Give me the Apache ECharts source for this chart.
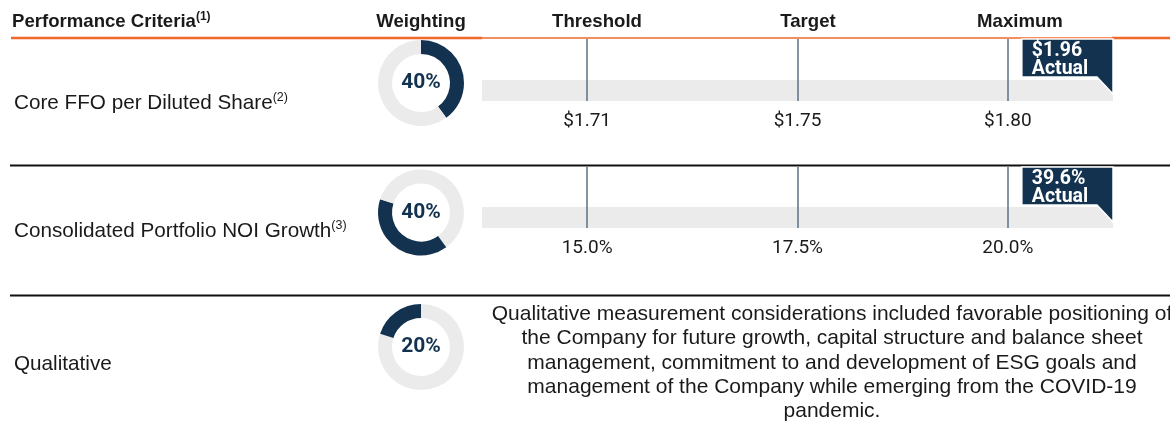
<!DOCTYPE html>
<html>
<head>
<meta charset="utf-8">
<script src="https://cdn.jsdelivr.net/npm/echarts@6/dist/echarts.min.js"></script>
<style>
  html, body { margin: 0; padding: 0; background: #ffffff; }
  #chart { width: 1170px; height: 428px; }
</style>
</head>
<body>
<div id="chart"></div>
<script>
// ---- data ----
const columnHeaders = ['Performance Criteria', 'Weighting', 'Threshold', 'Target', 'Maximum'];
const headerNote = '(1)';
const criteria = ['Core FFO per Diluted Share', 'Consolidated Portfolio NOI Growth', 'Qualitative'];
const criteriaNotes = ['(2)', '(3)', ''];
const weights = [40, 40, 20];
const ffoGoals = [1.71, 1.75, 1.80];
const ffoActual = 1.96;
const noiGoals = [15.0, 17.5, 20.0];
const noiActual = 39.6;
const actualWord = 'Actual';
const qualitativeLines = [
  'Qualitative measurement considerations included favorable positioning of',
  'the Company for future growth, capital structure and balance sheet',
  'management, commitment to and development of ESG goals and',
  'management of the Company while emerging from the COVID-19',
  'pandemic.'
];

// ---- styling ----
const NAVY = '#13324f';
const ORANGE = '#f0692a';
const TRACK = '#ebebeb';
const RING = '#ebebeb';
const TICK = '#5d7185';
const INK = '#1a1a1a';
const SANS = '"Liberation Sans", Arial, sans-serif';
const ROBOTO = 'Roboto, "Liberation Sans", sans-serif';

// per-row geometry
const rows = [
  { top: 39, trackY: 90.5, pieY: 83, textY: 103 },
  { top: 167, trackY: 217.5, pieY: 212.5, textY: 231 },
  { top: null, trackY: null, pieY: 347, textY: 364 }
];
const TRACK_H = 21;
const BAR_LEFT = 482, BAR_WIDTH = 631;
const PIE_X = 421;

const goalRows = [
  { labels: ffoGoals.map(v => '$' + v.toFixed(2)), goals: ffoGoals, actual: ffoActual, actualText: '$' + ffoActual.toFixed(2) },
  { labels: noiGoals.map(v => v.toFixed(1) + '%'), goals: noiGoals, actual: noiActual, actualText: noiActual.toFixed(1) + '%' }
];

const grids = [], xAxes = [], yAxes = [], series = [];

goalRows.forEach((g, i) => {
  const r = rows[i];
  grids.push({ left: BAR_LEFT, width: BAR_WIDTH, top: r.top, height: r.trackY - r.top });
  // bottom axis: grey track + goal labels
  xAxes.push({
    type: 'category', gridIndex: i, position: 'bottom', data: g.labels, boundaryGap: true,
    axisLine: { show: true, lineStyle: { color: TRACK, width: TRACK_H, cap: 'butt' } },
    axisTick: { show: false },
    axisLabel: { show: true, margin: 21.5, color: INK, fontFamily: ROBOTO, fontSize: 19 },
    splitLine: { show: false }
  });
  // top axis: goal marker lines running down through the track
  xAxes.push({
    type: 'category', gridIndex: i, position: 'top', data: g.labels, boundaryGap: true,
    axisLine: { show: false },
    axisTick: { show: true, inside: true, alignWithLabel: true,
      length: r.trackY + TRACK_H / 2 - r.top, lineStyle: { color: TICK, width: 1.5 } },
    axisLabel: { show: false },
    splitLine: { show: false }
  });
  yAxes.push({ type: 'value', gridIndex: i, min: 0, max: 1, show: false });

  // the "Actual" flag, placed at the highest goal level reached
  const reached = g.goals.filter(v => g.actual >= v).length - 1;
  series.push({
    type: 'custom', xAxisIndex: i * 2, yAxisIndex: i, silent: true, clip: false,
    data: [[reached, 1, g.actualText]],
    renderItem: function (params, api) {
      const p = api.coord([api.value(0), 1]);
      const band = api.size([1, 0])[0];
      const left = p[0] + 14;
      const right = p[0] + band / 2;
      const top = p[1];
      const boxH = 38, tip = 55, fold = 16;
      return {
        type: 'group',
        children: [
          {
            type: 'polygon',
            shape: { points: [[left, top], [right, top], [right, top + tip], [right - fold, top + boxH], [left, top + boxH]] },
            style: { fill: NAVY, stroke: '#ffffff', lineWidth: 1.5 }
          },
          {
            type: 'text',
            style: { text: g.actualText + '\n' + actualWord, x: left + 10, y: top + 3,
              fill: '#ffffff', font: 'bold 19.5px ' + ROBOTO, lineHeight: 18,
              align: 'left', verticalAlign: 'top', textAlign: 'left', textVerticalAlign: 'top' }
          }
        ]
      };
    }
  });
});

// weighting donuts, each slice placed after the previous criteria's share
let offset = 0;
weights.forEach((w, i) => {
  series.push({
    type: 'pie', silent: true, center: [PIE_X, rows[i].pieY], radius: [29, 43],
    startAngle: 90, clockwise: true, avoidLabelOverlap: false,
    labelLine: { show: false },
    emphasis: { disabled: true },
    data: [
      { value: offset, itemStyle: { color: RING }, label: { show: false } },
      { value: w, itemStyle: { color: NAVY },
        label: { show: true, position: 'center', formatter: w + '%', color: NAVY,
          fontFamily: ROBOTO, fontWeight: 'bold', fontSize: 21 } },
      { value: 100 - offset - w, itemStyle: { color: RING }, label: { show: false } }
    ]
  });
  offset += w;
});

// ---- table text and rules ----
const graphics = [];
const headerCenters = [null, 421, 597, 808, 1020];
graphics.push({
  type: 'text', x: 12, y: 22,
  style: { text: columnHeaders[0] + '{sup|' + headerNote + '}', fill: INK, font: 'bold 18.6px ' + SANS,
    verticalAlign: 'middle', textVerticalAlign: 'middle',
    rich: { sup: { fontSize: 12, fontWeight: 'bold', fontFamily: SANS, verticalAlign: 'top', lineHeight: 22, fill: INK, color: INK } } }
});
for (let k = 1; k < columnHeaders.length; k++) {
  graphics.push({
    type: 'text', x: headerCenters[k], y: 22,
    style: { text: columnHeaders[k], fill: INK, font: 'bold 18.6px ' + SANS,
      align: 'center', textAlign: 'center', verticalAlign: 'middle', textVerticalAlign: 'middle' }
  });
}
// header rule
graphics.push({ type: 'line', shape: { x1: 11, y1: 38, x2: 482, y2: 38 }, style: { stroke: ORANGE, lineWidth: 2.5 } });
graphics.push({ type: 'line', shape: { x1: 482, y1: 38, x2: 1112, y2: 38 }, style: { stroke: ORANGE, lineWidth: 1.5 } });
graphics.push({ type: 'line', shape: { x1: 1112, y1: 38, x2: 1170, y2: 38 }, style: { stroke: ORANGE, lineWidth: 2.5 } });
// row separators
[165.5, 295.5].forEach(y => graphics.push({
  type: 'line', shape: { x1: 10, y1: y, x2: 1170, y2: y }, style: { stroke: '#111111', lineWidth: 2 }
}));
// criteria names
criteria.forEach((name, i) => {
  graphics.push({
    type: 'text', x: 14, y: rows[i].textY,
    style: { text: name + (criteriaNotes[i] ? '{sup|' + criteriaNotes[i] + '}' : ''), fill: INK,
      font: '20.7px ' + SANS, verticalAlign: 'middle', textVerticalAlign: 'middle',
      rich: { sup: { fontSize: 12.5, fontFamily: SANS, verticalAlign: 'top', lineHeight: 23, fill: INK, color: INK } } }
  });
});
// qualitative note
graphics.push({
  type: 'text', x: 832, y: 302,
  style: { text: qualitativeLines.join('\n'), fill: INK, font: '21px ' + SANS, lineHeight: 24.3,
    align: 'center', textAlign: 'center', verticalAlign: 'top', textVerticalAlign: 'top' }
});

const chart = echarts.init(document.getElementById('chart'), null, { renderer: 'canvas' });
chart.setOption({
  animation: false,
  backgroundColor: '#ffffff',
  grid: grids,
  xAxis: xAxes,
  yAxis: yAxes,
  series: series,
  graphic: graphics
});
</script>
</body>
</html>
